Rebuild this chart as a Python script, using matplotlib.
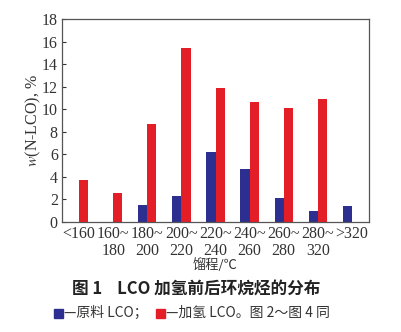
import matplotlib
matplotlib.use("Agg")
import matplotlib.pyplot as plt
import numpy as np

categories = ["<160", "160~\n180", "180~\n200", "200~\n220", "220~\n240",
              "240~\n260", "260~\n280", "280~\n320", ">320"]
raw_lco = [0, 0, 1.5, 2.3, 6.2, 4.7, 2.1, 1.0, 1.45]
hydro_lco = [3.75, 2.55, 8.65, 15.4, 11.85, 10.6, 10.1, 10.9, 0]
yticks = [0, 2, 4, 6, 8, 10, 12, 14, 16, 18]

blue = "#2c2f8f"
red = "#e31e26"
serif = ["Liberation Serif", "DejaVu Serif"]
cjk = ["Noto Sans CJK SC", "DejaVu Sans"]
plt.rcParams["font.family"] = serif
plt.rcParams["mathtext.fontset"] = "stix"

fig = plt.figure(figsize=(4.01, 3.32), dpi=100)
W, H = 401, 332
ax = fig.add_axes([62 / W, 1 - 222 / H, (369 - 62) / W, (222 - 19) / H])

x = np.arange(len(categories))
bw = 0.27
ax.bar(x - bw / 2, raw_lco, width=bw, color=blue)
ax.bar(x + bw / 2, hydro_lco, width=bw, color=red)

ax.set_xlim(-0.5, len(categories) - 0.5)
ax.set_ylim(0, 18)
ax.set_yticks(yticks)
ax.set_yticklabels([str(t) for t in yticks], fontsize=11.5)
ax.set_xticks(x)
ax.set_xticklabels(categories, fontsize=11.5, linespacing=1.1)
ax.tick_params(axis="y", direction="in", length=3, width=0.8, pad=3, colors="#333333")
ax.tick_params(axis="x", length=0, pad=3, colors="#333333")
for s in ax.spines.values():
    s.set_color("#555555")
    s.set_linewidth(0.9)

fig.text(33 / W, 1 - 121 / H, r"$w$(N-LCO), %", rotation=90, ha="center", va="center",
         fontsize=11.5, color="#333333")
fig.text(215 / W, 1 - 265 / H, "馏程/℃", ha="center", va="center",
         family=cjk, fontsize=9.5, color="#333333")
fig.text(196 / W, 1 - 290 / H, "图 1    LCO 加氢前后环烷烃的分布", ha="center", va="center",
         family=cjk, fontsize=12, fontweight="bold", color="#222222")

# legend line
y_leg = 1 - 313 / H
fig.patches.append(plt.Rectangle((54 / W, 1 - 318 / H), 9 / W, 9 / H,
                                 transform=fig.transFigure, color=blue))
fig.text(64 / W, y_leg, "—原料 LCO；", ha="left", va="center",
         family=cjk, fontsize=10, color="#333333")
fig.patches.append(plt.Rectangle((156 / W, 1 - 318 / H), 9 / W, 9 / H,
                                 transform=fig.transFigure, color=red))
fig.text(166 / W, y_leg, "—加氢 LCO。图 2～图 4 同", ha="left", va="center",
         family=cjk, fontsize=10, color="#333333")

fig.savefig("out.png", dpi=100)
